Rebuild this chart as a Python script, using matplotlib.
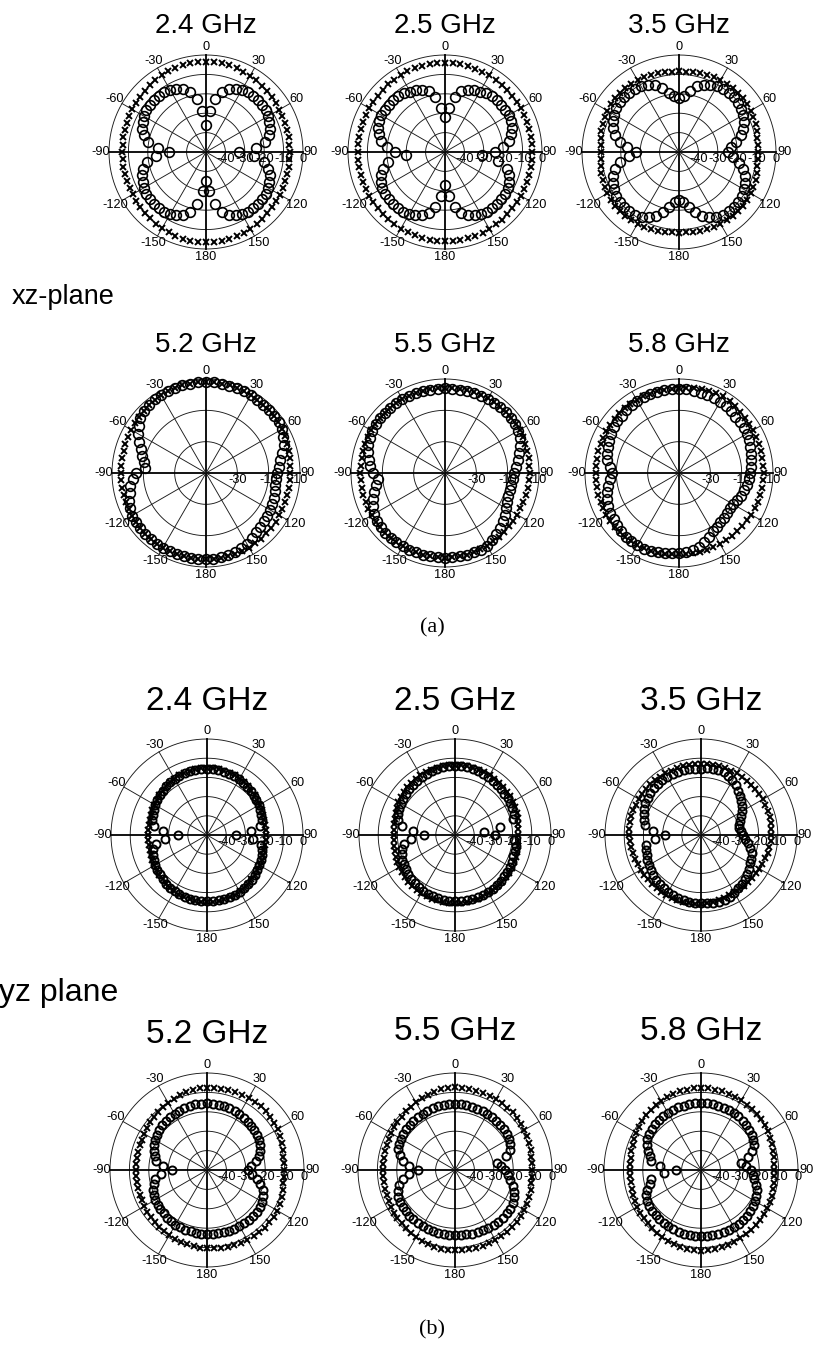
import numpy as np
import matplotlib
matplotlib.use("Agg")
import matplotlib.pyplot as plt
from matplotlib.transforms import offset_copy

# ---------------- data (dB), angles 0..355 step 5 deg, clockwise from top ----------------
angle_deg = np.arange(0, 360, 5)

# xz-plane, low band
xz24_o = [-36, -29, -22, -18, -15.5, -14, -13, -12.5, -12, -12, -12, -12.5,
          -13, -14, -15, -16.5, -19, -24, -33, -25, -19.5, -17, -15, -14,
          -13, -12.5, -12, -12, -12, -12.5, -13, -14, -15.5, -18, -23, -30,
          -35, -30, -23, -18, -15.5, -14, -13, -12.5, -12, -12, -12, -12.5,
          -13, -14, -15, -16.5, -19, -24, -31, -25, -19.5, -17, -15, -14,
          -13, -12.5, -12, -12, -12, -12.5, -13, -14, -15.5, -18, -22, -29]
xz24_x = [-3.5, -3.5, -3.6, -3.8, -4, -4.3, -4.6, -5, -5.3, -5.6, -5.9, -6.1,
          -6.3, -6.5, -6.6, -6.7, -6.8, -6.8, -6.8, -6.8, -6.7, -6.6, -6.5, -6.3,
          -6.1, -5.8, -5.5, -5.2, -4.9, -4.6, -4.3, -4, -3.8, -3.6, -3.5, -3.5,
          -3.5, -3.5, -3.6, -3.8, -4, -4.3, -4.6, -5, -5.3, -5.6, -5.9, -6.1,
          -6.3, -6.5, -6.6, -6.7, -6.8, -6.8, -6.8, -6.8, -6.7, -6.6, -6.5, -6.3,
          -6.1, -5.8, -5.5, -5.2, -4.9, -4.6, -4.3, -4, -3.8, -3.6, -3.5, -3.5]
xz25_o = [-32, -27, -21, -17.5, -16, -15, -14, -13, -12.5, -12, -12, -12,
          -12, -12.5, -13.5, -15, -16.5, -20, -24, -31, -22, -17, -15, -13.5,
          -12.5, -12, -12, -12, -12, -12.5, -13, -14, -15.5, -17.5, -21, -27,
          -33, -27, -21, -17.5, -15.5, -14, -13, -12.5, -12, -12, -12, -12,
          -12.5, -13.5, -15, -17, -20, -30, -24, -20, -16.5, -15, -13.5, -12.5,
          -12, -12, -12, -12, -12.5, -13, -14, -15, -16, -17.5, -21, -27]
xz25_x = [-4, -4, -4, -4.1, -4.2, -4.3, -4.4, -4.5, -4.6, -4.7, -4.8, -4.9,
          -5, -5, -5.1, -5.1, -5.1, -5.1, -5.1, -5.1, -5.1, -5.1, -5, -5,
          -4.9, -4.8, -4.7, -4.6, -4.5, -4.4, -4.3, -4.2, -4.1, -4, -4, -4,
          -4, -4, -4, -4.1, -4.2, -4.3, -4.4, -4.5, -4.6, -4.7, -4.8, -4.9,
          -5, -5, -5.1, -5.1, -5.1, -5.1, -5.1, -5.1, -5.1, -5.1, -5, -5,
          -4.9, -4.8, -4.7, -4.6, -4.5, -4.4, -4.3, -4.2, -4.1, -4, -4, -4]
xz35_o = [-22, -21, -18, -15, -13, -12, -11, -10.5, -10, -10, -10.5, -11,
          -12, -13, -15, -17, -20, -23, -25, -22, -18.5, -16, -14, -12.5,
          -11.5, -10.5, -10, -10, -10, -10.5, -11.5, -13, -15, -18, -21, -24,
          -25, -24, -21, -18, -15, -13, -11.5, -10.5, -10, -10, -10, -10.5,
          -11.5, -12.5, -14, -16, -19, -24, -28, -23, -19, -16, -14, -12.5,
          -11.5, -10.5, -10, -10, -10, -10.5, -11, -12, -13.5, -16, -19, -21]
xz35_x = [-8.5, -8.5, -8.3, -8, -7.8, -7.5, -7.3, -7.1, -7, -7, -7, -7.2,
          -7.4, -7.7, -8, -8.5, -9, -9.3, -9.5, -9.3, -9, -8.5, -8, -7.7,
          -7.4, -7.2, -7, -7, -7, -7.1, -7.3, -7.5, -7.8, -8, -8.3, -8.5,
          -8.5, -8.5, -8.3, -8, -7.8, -7.5, -7.3, -7.1, -7, -7, -7, -7.2,
          -7.4, -7.7, -8.1, -8.6, -9.1, -9.5, -9.7, -9.5, -9.1, -8.6, -8.1, -7.7,
          -7.4, -7.2, -7, -7, -7, -7.1, -7.3, -7.5, -7.8, -8, -8.3, -8.5]

# xz-plane, high band
xz52_o = [8, 8, 8, 7.8, 7.6, 7.4, 7.2, 7, 7, 7, 6.8, 6.5,
          6, 4.5, 3, 0.5, -2, -3.5, -4.5, -5, -5, -4.5, -4, -3.5,
          -3, -2.5, -2, -1.2, -0.5, 0.8, 2, 2.8, 3.5, 4.2, 4.6, 4.8,
          5, 5, 5, 5, 5, 5, 5, 5, 5, 5, 4.8, 4.6,
          4.5, 3.5, 2.5, 0.5, -1, -3, -5, -11, -10, -8, -6, -3,
          0, 2.5, 5, 6, 6.8, 7.3, 7.7, 7.9, 8, 8, 8, 8]
xz52_x = [8, 8, 8, 8, 7.8, 7.6, 7.4, 7.2, 7, 6.8, 6.5, 6.2,
          6, 5.5, 5, 4.6, 4.3, 4, 3.8, 3.7, 3.6, 3.6, 3.7, 3.8,
          4, 4.2, 4.4, 4.6, 4.8, 4.9, 5, 5, 5, 5, 5, 5,
          5, 5, 5, 5, 5, 5, 5, 5, 5, 5, 4.9, 4.8,
          4.6, 4.5, 4.4, 4.3, 4.3, 4.3, 4.3, 4.3, 4.4, 4.5, 4.7, 5,
          5.3, 5.6, 6, 6.4, 6.8, 7.1, 7.4, 7.6, 7.8, 8, 8, 8]
xz55_o = [4, 4, 4, 4.2, 4.4, 4.5, 4.5, 4.6, 4.7, 4.8, 4.8, 4.6,
          4, 2.5, 1, -1, -3, -4.5, -6, -6.5, -7, -7, -7, -6,
          -5, -3.5, -2, -0.5, 1, 2.5, 3.5, 4, 4, 4, 4, 4,
          4, 4, 4, 4, 4, 4, 4, 4, 4, 3.8, 3.5, 3,
          2, 0.5, -1, -3, -5, -7, -4, -2, -0.5, 1, 2, 3,
          3.5, 4, 4.2, 4.3, 4.4, 4.5, 4.5, 4.4, 4.3, 4.2, 4, 4]
xz55_x = [4.5, 4.5, 4.6, 4.7, 4.8, 4.9, 5, 5, 5, 5, 5, 5,
          5, 4.8, 4.6, 4.4, 4.2, 4.1, 4, 3.8, 3.6, 3.4, 3.2, 3.1,
          3, 3, 3, 3.1, 3.2, 3.3, 3.5, 3.6, 3.8, 3.9, 4, 4,
          4, 4, 4, 4, 4, 4, 4, 4, 4, 4, 4, 4,
          4, 4, 4, 4, 4, 4, 4, 4, 4, 4.1, 4.2, 4.3,
          4.4, 4.4, 4.5, 4.5, 4.5, 4.5, 4.5, 4.5, 4.5, 4.5, 4.5, 4.5]
xz58_o = [3.8, 3.6, 3.4, 3.1, 2.8, 2.6, 2.5, 2, 1.5, 1, 1, 0.5,
          0, -0.5, -1.5, -2.5, -3.5, -4, -4.5, -5, -6, -7, -8, -9.5,
          -10.5, -10.5, -10, -9.5, -9, -8, -7, -5, -3, -1, 0, 0.5,
          1, 1.5, 2, 2.5, 3, 3.2, 3.3, 3.3, 3, 2.5, 1.8, 1,
          0.5, 0, -1, -2.5, -4, -6, -7.5, -5.5, -3.5, -2.5, -1.8, -1,
          0, 1, 1.5, 1.8, 2.2, 2.8, 3.2, 3.5, 3.7, 3.8, 3.8, 3.8]
xz58_x = [4, 4.5, 5, 5.5, 6, 6.3, 6.5, 6.3, 6, 5.5, 5, 4.7,
          4.5, 4.3, 4.2, 4.1, 4, 4, 4, 3.9, 3.8, 3.6, 3.4, 3.2,
          3, 2.8, 2.6, 2.4, 2.2, 2.1, 2, 2, 2, 2, 2, 2,
          2, 2.2, 2.4, 2.6, 2.8, 3, 3, 3.2, 3.3, 3.4, 3.5, 3.5,
          3.5, 3.4, 3.3, 3.2, 3.1, 3, 3, 3, 3.1, 3.2, 3.3, 3.4,
          3.5, 3.6, 3.7, 3.8, 3.9, 4, 4, 4, 4, 4, 4, 4]

# yz-plane, low band
yz24_o = [-15.5, -15.5, -15.6, -15.8, -16, -16.3, -16.6, -17, -17.4, -17.8, -18.2, -18.6,
          -19, -19.4, -19.8, -20.5, -22, -27, -35, -26, -21.5, -20.2, -19.5, -19,
          -18.5, -18, -17.5, -17, -16.6, -16.3, -16, -15.8, -15.6, -15.5, -15.5, -15.5,
          -15.5, -15.5, -15.5, -15.6, -15.8, -16, -16.3, -16.6, -17, -17.5, -18, -18.5,
          -19, -19.5, -20, -21, -23, -28, -35, -27, -22, -20.5, -19.8, -19.3,
          -18.8, -18.3, -17.8, -17.4, -17, -16.6, -16.3, -16, -15.8, -15.6, -15.5, -15.5]
yz24_x = [-15, -15, -15.1, -15.3, -15.5, -15.8, -16.1, -16.5, -16.9, -17.3, -17.7, -18,
          -18.3, -18.6, -18.9, -19.1, -19.3, -19.4, -19.5, -19.4, -19.3, -19.1, -18.9, -18.6,
          -18.3, -18, -17.7, -17.3, -16.9, -16.5, -16.1, -15.8, -15.5, -15.3, -15.1, -15,
          -15, -15, -15.1, -15.3, -15.5, -15.8, -16.1, -16.5, -16.9, -17.3, -17.7, -18,
          -18.3, -18.6, -18.9, -19.1, -19.3, -19.4, -19.5, -19.4, -19.3, -19.1, -18.9, -18.6,
          -18.3, -18, -17.7, -17.3, -16.9, -16.5, -16.1, -15.8, -15.5, -15.3, -15.1, -15]
yz25_o = [-14, -14, -14.2, -14.5, -14.8, -15, -15.3, -15.6, -15.9, -16.2, -16.4, -16.6,
          -16.8, -17, -17.5, -18.5, -26, -35, -29, -19, -18, -17.8, -17.6, -17.3,
          -17, -16.8, -16.5, -16.3, -16, -15.8, -15.6, -15.5, -15.5, -15.5, -15.5, -15.5,
          -15.5, -15.5, -15.6, -15.8, -16, -16.3, -16.6, -17, -17.4, -17.8, -18.3, -18.8,
          -19.3, -19.8, -20.5, -21.5, -23, -27, -34, -28, -22, -19.5, -18.5, -18,
          -17.6, -17.2, -16.8, -16.4, -16, -15.6, -15.2, -14.9, -14.6, -14.3, -14.1, -14]
yz25_x = [-13.5, -13.5, -13.6, -13.7, -13.8, -13.9, -14, -14.2, -14.4, -14.6, -14.8, -15,
          -15.2, -15.5, -15.8, -16.2, -16.6, -16.9, -17, -17, -16.8, -16.6, -16.4, -16.2,
          -16, -15.8, -15.6, -15.4, -15.2, -15.1, -15, -14.9, -14.8, -14.7, -14.6, -14.5,
          -14.5, -14.5, -14.6, -14.7, -14.8, -14.9, -15, -15.2, -15.4, -15.6, -15.9, -16.2,
          -16.5, -16.8, -17.1, -17.4, -17.7, -17.9, -18, -17.9, -17.7, -17.4, -17.1, -16.6,
          -16, -15.6, -15.2, -14.9, -14.6, -14.3, -14, -13.9, -13.8, -13.7, -13.6, -13.5]
yz35_o = [-15.5, -15.2, -15, -15, -15.3, -16.2, -17.2, -18.5, -19.8, -21, -22.5, -24,
          -25.5, -27, -28.5, -29.5, -30, -29, -28, -27, -25, -23.5, -22, -21,
          -20.5, -19.5, -18.5, -17.5, -16.8, -16, -15.2, -14.5, -14, -14, -14.2, -14.4,
          -14.5, -14.6, -14.8, -15, -15.2, -15.5, -15.8, -16.2, -16.6, -17, -17.5, -18,
          -18.5, -19.2, -20, -20.5, -21, -26, -31, -25, -20.5, -19.5, -18.5, -17.5,
          -16.5, -16, -15.6, -15.3, -15.1, -15, -15, -15, -15.1, -15.2, -15.3, -15.4]
yz35_x = [-13, -13, -13, -13, -13, -13, -13, -13, -13, -13, -13, -13,
          -13, -13, -13, -13, -13.1, -13.2, -13.3, -13.5, -13.8, -14.1, -14.5, -14.8,
          -15, -15.2, -15.3, -15.4, -15.5, -15.5, -15.5, -15.3, -15, -14.7, -14.4, -14.2,
          -14, -14, -14, -14, -14, -14, -14, -14, -14, -14, -14, -14,
          -14, -13.8, -13.5, -13.2, -13, -12.8, -12.5, -12.5, -12.5, -12.5, -12.5, -12.5,
          -12.5, -12.6, -12.7, -12.8, -12.9, -13, -13, -13, -13, -13, -13, -13]

# yz-plane, high band
yz52_o = [-15.7, -15.7, -15.8, -16, -16.2, -16.4, -16.6, -17, -17.4, -17.8, -18.3, -18.8,
          -19.3, -20, -21, -22.5, -24.5, -27, -29, -26.5, -24, -21.5, -19.5, -18,
          -17, -16.6, -16.4, -16.3, -16.3, -16.4, -16.5, -16.6, -16.8, -17, -17, -17,
          -17, -17, -17.1, -17.2, -17.3, -17.4, -17.5, -17.7, -18, -18.3, -18.6, -18.9,
          -19.2, -19.8, -20.5, -21.5, -23, -26, -32, -27, -23.5, -22, -21, -20,
          -19.3, -18.6, -18, -17.5, -17, -16.7, -16.5, -16.2, -16, -15.8, -15.7, -15.7]
yz52_x = [-7.5, -7.5, -7.4, -7.3, -7.2, -7.1, -7, -7, -7, -7.1, -7.3, -7.6,
          -8, -8.5, -9, -9.5, -10, -10.3, -10.5, -10.3, -10, -9.5, -9, -8.5,
          -8.2, -8, -8, -8, -8.1, -8.2, -8.4, -8.6, -8.8, -9, -9.2, -9.4,
          -9.6, -9.8, -10, -10.3, -10.6, -10.9, -11.2, -11.5, -11.8, -12, -12.2, -12.4,
          -12.6, -12.8, -13, -13.2, -13.4, -13.5, -13.5, -13.5, -13.4, -13.2, -13, -12.8,
          -12.5, -12.2, -11.8, -11.4, -11, -10.5, -10, -9.5, -9, -8.5, -8, -7.7]
yz55_o = [-16, -16, -16.1, -16.2, -16.3, -16.4, -16.5, -16.7, -16.9, -17.1, -17.3, -17.5,
          -17.8, -18.5, -20, -23, -28, -26, -24, -22.5, -21, -19, -17.5, -16.5,
          -15.5, -15.3, -15.2, -15.2, -15.3, -15.4, -15.5, -15.7, -15.9, -16.1, -16.3, -16.4,
          -16.4, -16.4, -16.4, -16.5, -16.5, -16.5, -16.5, -16.6, -16.7, -16.8, -16.9, -17,
          -17, -17.5, -18.5, -20, -23, -26, -31, -26, -23, -20.5, -19, -18.2,
          -17.8, -17.4, -17.1, -16.9, -16.7, -16.5, -16.5, -16.3, -16.2, -16.1, -16, -16]
yz55_x = [-7.4, -7.4, -7.5, -7.6, -7.7, -7.8, -7.9, -8, -8, -8, -8.2, -8.4,
          -8.7, -9, -9.4, -9.7, -10, -10.2, -10.3, -10.2, -10, -9.7, -9.4, -9.1,
          -8.8, -8.6, -8.5, -8.5, -8.5, -8.5, -8.5, -8.5, -8.5, -8.5, -8.6, -8.6,
          -8.6, -8.7, -8.8, -9, -9.3, -9.6, -10, -10.4, -10.7, -11, -11.3, -11.6,
          -11.9, -12.2, -12.5, -12.7, -12.9, -13, -13, -13, -12.9, -12.7, -12.5, -12.2,
          -11.9, -11.6, -11.3, -11, -10.6, -10.2, -9.7, -9.2, -8.7, -8.2, -7.8, -7.5]
yz58_o = [-15.5, -15.5, -15.6, -15.7, -15.8, -15.9, -16, -16.3, -16.7, -17.1, -17.6, -18.2,
          -19, -20, -22, -25, -29, -26.5, -24, -23, -22, -20.5, -19.5, -18.7,
          -18, -17.5, -17, -16.7, -16.4, -16.2, -16, -16, -16, -16, -16, -16,
          -16, -16, -16, -16.1, -16.2, -16.3, -16.4, -16.5, -16.7, -16.9, -17.2, -17.5,
          -18, -19, -20.5, -23, -24, -31, -37, -29, -24, -23, -21, -19.5,
          -18, -17.5, -17, -16.7, -16.4, -16.2, -16, -15.8, -15.7, -15.6, -15.5, -15.5]
yz58_x = [-7.8, -7.8, -7.9, -8, -8.2, -8.4, -8.6, -8.8, -9, -9, -9.3, -9.7,
          -10.1, -10.6, -11.1, -11.6, -12, -12.3, -12.4, -12.3, -12, -11.6, -11.2, -10.8,
          -10.5, -10.2, -10, -10, -9.8, -9.6, -9.4, -9.2, -9, -8.8, -8.6, -8.5,
          -8.5, -8.6, -8.8, -9, -9.3, -9.6, -10, -10.4, -10.7, -11, -11.4, -11.8,
          -12.2, -12.5, -12.8, -13.1, -13.3, -13.4, -13.4, -13.4, -13.2, -12.9, -12.5, -12,
          -11.5, -11, -10.5, -10, -9.6, -9.2, -8.8, -8.5, -8.2, -8, -7.9, -7.8]

theta_ticks = [0, 30, 60, 90, 120, 150, 180, 210, 240, 270, 300, 330]
theta_labels = ['0', '30', '60', '90', '120', '150', '180', '-150', '-120', '-90', '-60', '-30']
rings_low = [-40, -30, -20, -10, 0]
ring_labels_low = ['-40', '-30', '-20', '-10', '0']
rings_high = [-30, -10, 10]
ring_labels_high = ['-30', '-10', '10']
titles_low = ['2.4 GHz', '2.5 GHz', '3.5 GHz']
titles_high = ['5.2 GHz', '5.5 GHz', '5.8 GHz']

# ---------------- figure ----------------
W, H = 814, 1353
fig = plt.figure(figsize=(W / 100, H / 100), dpi=100)
LAB_FONT = ['Liberation Sans Narrow', 'Liberation Sans', 'DejaVu Sans']
TTL_FONT = ['Liberation Sans', 'DejaVu Sans']


def polar_panel(cx, cy, R, r_lo, r_hi, rings, ring_labels, o_vals, x_vals, o_ms, o_mew, x_ms):
    ax = fig.add_axes([(cx - R) / W, 1 - (cy + R) / H, 2 * R / W, 2 * R / H], projection='polar')
    ax.set_theta_zero_location('N')
    ax.set_theta_direction(-1)
    ax.set_ylim(r_lo, r_hi)
    ax.set_xticks([])
    ax.set_yticks([])
    ax.grid(False)
    ax.spines['polar'].set_visible(False)
    ax.patch.set_alpha(0)
    full = np.linspace(0, 2 * np.pi, 361)
    for rv in rings:
        ax.plot(full, np.full_like(full, rv), color='#1a1a1a', lw=0.65, clip_on=False)
    for a in theta_ticks:
        t = np.deg2rad(a)
        main = a % 90 == 0
        ax.plot([t, t], [r_lo, r_hi], color='k' if main else '#1a1a1a',
                lw=1.3 if main else 0.65, clip_on=False)
    th = np.deg2rad(angle_deg)
    ax.plot(th, x_vals, ls='none', marker='x', ms=x_ms, mew=1.4, color='k', clip_on=False, zorder=3)
    ax.plot(th, o_vals, ls='none', marker='o', ms=o_ms, mfc='none', mec='k', mew=o_mew,
            clip_on=False, zorder=4)
    span = r_hi - r_lo
    r_lab = r_hi + 8.0 / R * span
    for a, lab in zip(theta_ticks, theta_labels):
        ax.text(np.deg2rad(a), r_lab, lab, ha='center', va='center', fontsize=9.2,
                family=LAB_FONT, clip_on=False)
    tr = offset_copy(ax.transData, fig=fig, x=0, y=-7, units='dots')
    for rv, lab in zip(rings, ring_labels):
        ax.text(np.pi / 2, rv, lab, transform=tr, ha='center', va='center', fontsize=9.2,
                family=LAB_FONT, clip_on=False, zorder=5)
    return ax


cols_a = [206, 445, 679]
cols_b = [207, 455, 701]

row1 = [(xz24_o, xz24_x), (xz25_o, xz25_x), (xz35_o, xz35_x)]
row2 = [(xz52_o, xz52_x), (xz55_o, xz55_x), (xz58_o, xz58_x)]
row3 = [(yz24_o, yz24_x), (yz25_o, yz25_x), (yz35_o, yz35_x)]
row4 = [(yz52_o, yz52_x), (yz55_o, yz55_x), (yz58_o, yz58_x)]

for cx, (o, x) in zip(cols_a, row1):
    polar_panel(cx, 152, 97, -50, 0, rings_low, ring_labels_low, o, x, 7.0, 1.2, 4.0)
for cx, (o, x) in zip(cols_a, row2):
    polar_panel(cx, 473, 94, -50, 10, rings_high, ring_labels_high, o, x, 7.0, 1.2, 4.0)
for cx, (o, x) in zip(cols_b, row3):
    polar_panel(cx, 835, 96, -50, 0, rings_low, ring_labels_low, o, x, 5.8, 1.4, 3.8)
for cx, (o, x) in zip(cols_b, row4):
    polar_panel(cx, 1170, 97, -50, 0, rings_low, ring_labels_low, o, x, 5.8, 1.4, 3.8)


def ftext(x, y, s, **kw):
    fig.text(x / W, 1 - y / H, s, **kw)


for cx, t in zip(cols_a, titles_low):
    ftext(cx, 33, t, ha='center', va='baseline', fontsize=20, family=TTL_FONT)
for cx, t in zip(cols_a, titles_high):
    ftext(cx, 352, t, ha='center', va='baseline', fontsize=20, family=TTL_FONT)
for cx, t in zip(cols_b, titles_low):
    ftext(cx, 710, t, ha='center', va='baseline', fontsize=24, family=TTL_FONT)
for cx, yb, t in zip(cols_b, [1043, 1040, 1040], titles_high):
    ftext(cx, yb, t, ha='center', va='baseline', fontsize=24, family=TTL_FONT)

ftext(12, 304, 'xz-plane', ha='left', va='baseline', fontsize=19.5, family=TTL_FONT)
ftext(-1, 1001, 'yz plane', ha='left', va='baseline', fontsize=23, family=TTL_FONT)
ftext(432, 632, '(a)', ha='center', va='baseline', fontsize=16, family=['Liberation Serif', 'DejaVu Serif'])
ftext(432, 1334, '(b)', ha='center', va='baseline', fontsize=16, family=['Liberation Serif', 'DejaVu Serif'])

fig.savefig('out.png', dpi=100)
